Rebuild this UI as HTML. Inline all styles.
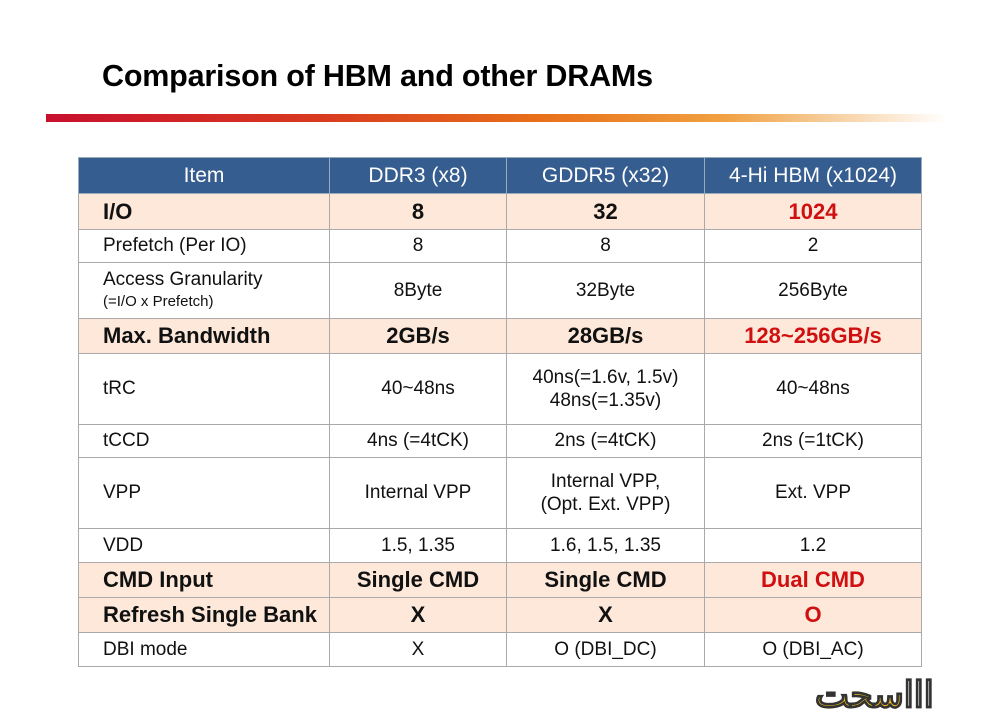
<!DOCTYPE html><html><head><style>
body{margin:0;width:994px;height:717px;background:#fff;position:relative;overflow:hidden;font-family:"Liberation Sans",sans-serif}
h1{position:absolute;left:102px;top:59px;margin:0;font-size:30.5px;font-weight:bold;color:#000;letter-spacing:-0.2px}
.bar{position:absolute;left:46px;top:114px;width:900px;height:8px;background:linear-gradient(90deg,#c8102e 0%,#d83a20 30%,#e8701a 55%,#f0a040 75%,rgba(255,255,255,0) 100%)}
table{position:absolute;left:78px;top:157px;border-collapse:collapse;width:843px;table-layout:fixed}
td,th{border:1px solid #aaa;text-align:center;font-size:19px;color:#111;padding:0}
th{background:#355d8f;color:#fff;font-weight:normal;font-size:21px;height:35px;border-color:#9ab}
td.l{text-align:left;padding-left:24px}
tr.h td{background:#fde8da;font-weight:bold;font-size:22px}
.r{color:#d01010}
.s{font-size:15px}
.wm{position:absolute;left:815px;top:674px;font-size:36px;font-weight:bold;color:#fff;-webkit-text-stroke:1.5px #333;letter-spacing:2px}
.wm b{color:#f3c020}
</style></head><body>
<h1>Comparison of HBM and other DRAMs</h1>
<div class="bar"></div>
<table>
<colgroup><col style="width:251px"><col style="width:177px"><col style="width:198px"><col style="width:217px"></colgroup>
<tr><th>Item</th><th>DDR3 (x8)</th><th>GDDR5 (x32)</th><th>4-Hi HBM (x1024)</th></tr>
<tr class="h" style="height:36px"><td class="l">I/O</td><td>8</td><td>32</td><td class="r">1024</td></tr>
<tr style="height:33px"><td class="l">Prefetch (Per IO)</td><td>8</td><td>8</td><td>2</td></tr>
<tr style="height:56px"><td class="l" style="line-height:21px">Access Granularity<br><span class="s">(=I/O x Prefetch)</span></td><td>8Byte</td><td>32Byte</td><td>256Byte</td></tr>
<tr class="h" style="height:35px"><td class="l">Max. Bandwidth</td><td>2GB/s</td><td>28GB/s</td><td class="r">128~256GB/s</td></tr>
<tr style="height:71px"><td class="l">tRC</td><td>40~48ns</td><td style="line-height:23px">40ns(=1.6v, 1.5v)<br>48ns(=1.35v)</td><td>40~48ns</td></tr>
<tr style="height:33px"><td class="l">tCCD</td><td>4ns (=4tCK)</td><td>2ns (=4tCK)</td><td>2ns (=1tCK)</td></tr>
<tr style="height:71px"><td class="l">VPP</td><td>Internal VPP</td><td style="line-height:23px">Internal VPP,<br>(Opt. Ext. VPP)</td><td>Ext. VPP</td></tr>
<tr style="height:34px"><td class="l">VDD</td><td>1.5, 1.35</td><td>1.6, 1.5, 1.35</td><td>1.2</td></tr>
<tr class="h" style="height:35px"><td class="l">CMD Input</td><td>Single CMD</td><td>Single CMD</td><td class="r">Dual CMD</td></tr>
<tr class="h" style="height:35px"><td class="l">Refresh Single Bank</td><td>X</td><td>X</td><td class="r">O</td></tr>
<tr style="height:34px"><td class="l">DBI mode</td><td>X</td><td>O (DBI_DC)</td><td>O (DBI_AC)</td></tr>
</table>
<div class="wm">ااا<b>سحت</b></div>
</body></html>
